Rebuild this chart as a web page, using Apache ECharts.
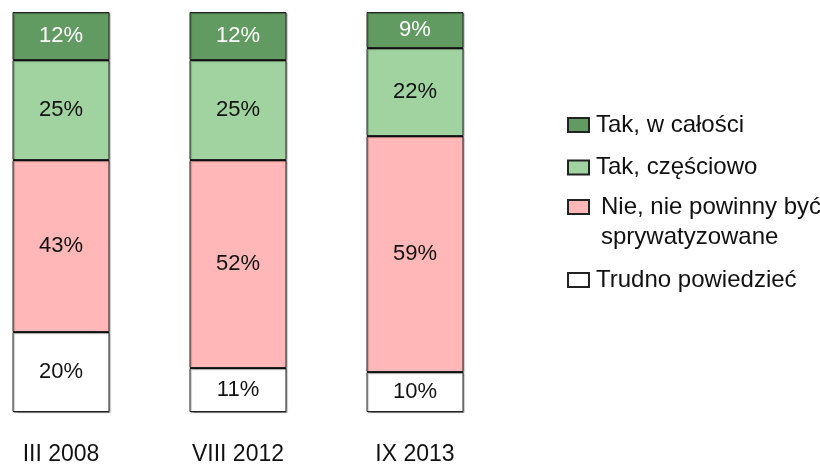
<!DOCTYPE html>
<html>
<head>
<meta charset="utf-8">
<script src="https://cdn.jsdelivr.net/npm/echarts@6/dist/echarts.min.js"></script>
<style>
  html, body { margin: 0; padding: 0; background: #fff; }
  #chart { width: 820px; height: 466px; }
</style>
</head>
<body>
<div id="chart"></div>
<script>
// dane
var categories = ["III 2008", "VIII 2012", "IX 2013"];
var takCalosc = [12, 12, 9];
var takCzesc = [25, 25, 22];
var nie = [43, 52, 59];
var trudno = [20, 11, 10];

var seriesNames = ["Tak, w całości", "Tak, częściowo", "Nie, nie powinny być\nsprywatyzowane", "Trudno powiedzieć"];
var seriesColors = ["#629b62", "#a1d3a0", "#ffb7b7", "#ffffff"];
var labelColors = ["#ffffff", "#111", "#111", "#111"];
var seriesData = [takCalosc, takCzesc, nie, trudno];

var FONT = "Liberation Sans, Arial, sans-serif";

(function () {
    var myChart = echarts.init(document.getElementById("chart"));

    // kolejnosc w stosie: od dolu (trudno) do gory (tak, w calosci)
    var series = [];
    for (var i = seriesData.length - 1; i >= 0; i--) {
        series.push({
            name: seriesNames[i],
            type: 'bar',
            stack: 'total',
            barWidth: 97,
            clip: false,
            data: seriesData[i],
            itemStyle: {
                color: seriesColors[i],
                borderColor: "#222",
                borderWidth: 1,
                shadowColor: "rgba(0,0,0,0.35)",
                shadowBlur: 1,
                shadowOffsetX: 1,
                shadowOffsetY: 1
            },
            label: {
                show: true,
                position: "inside",
                formatter: "{c}%",
                color: labelColors[i],
                fontSize: 22,
                fontFamily: FONT
            }
        });
    }

    // osobna legenda dla kazdej pozycji
    var legendTops = [112, 154.5, 162, 267];
    var legends = seriesNames.map(function (name, i) {
        var multi = name.indexOf("\n") >= 0;
        return {
            orient: 'vertical',
            left: 567,
            top: legendTops[i],
            padding: 0,
            icon: 'rect',
            itemWidth: 21,
            itemHeight: 14,
            selectedMode: false,
            // pusta pierwsza linia -> ikona na wysokosci pierwszego wiersza
            formatter: multi ? function (n) { return "\n" + n; } : "{name}",
            data: [name],
            itemStyle: { shadowBlur: 0, shadowOffsetX: 0, shadowOffsetY: 0 },
            textStyle: {
                color: "#111",
                fontSize: 24,
                fontFamily: FONT,
                lineHeight: multi ? 30 : 26,
                padding: multi ? [0, 0, 0, 7] : [0, 0, 0, 2]
            }
        };
    });

    var option = {
        animation: false,
        legend: legends,
        grid: {
            left: 61,
            width: 354,
            top: 12,
            bottom: 49,
            containLabel: false
        },
        xAxis: {
            type: 'category',
            data: categories,
            boundaryGap: false,
            axisLine: { show: false },
            axisTick: { show: false },
            axisLabel: {
                color: "#111",
                fontSize: 23,
                fontFamily: FONT,
                margin: 31
            }
        },
        yAxis: {
            type: 'value',
            min: 0,
            max: 100,
            show: false
        },
        series: series
    };
    myChart.setOption(option);
})();
</script>
</body>
</html>
